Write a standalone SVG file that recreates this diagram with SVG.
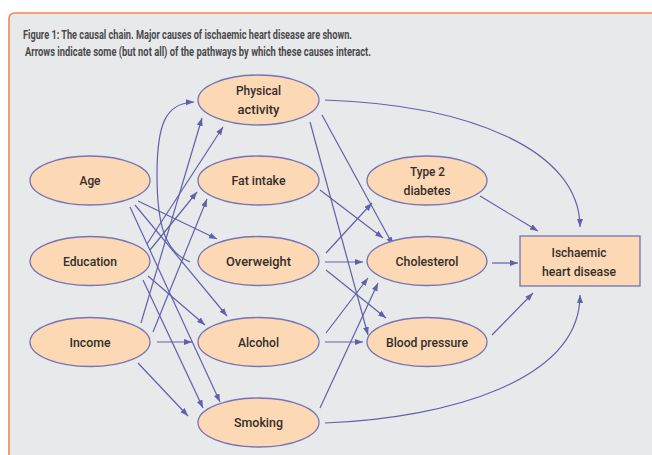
<svg xmlns="http://www.w3.org/2000/svg" width="652" height="455" viewBox="0 0 652 455">
<defs>
<marker id="ah" markerUnits="userSpaceOnUse" markerWidth="9" markerHeight="7" refX="8" refY="3" orient="auto">
<path d="M0,0 L8,3 L0,6 z" fill="#5f62ab"/>
</marker>
<style>
.node ellipse, .node rect { fill:#fdd8b5; stroke:#7474b6; stroke-width:1.3; }
.node text { font-family:Roboto, "Liberation Sans", Arial, sans-serif; font-weight:500; font-size:13.5px; fill:#332e2b; text-anchor:middle; }
.title { font-family:Roboto, "Liberation Sans", Arial, sans-serif; font-size:12.5px; font-weight:bold; fill:#4a4a4d; }
#connectors path, #connectors line { stroke:#5f62ab; stroke-width:1.2; fill:none; marker-end:url(#ah); }
</style>
</defs>
<rect x="0" y="0" width="652" height="455" fill="#ffffff"/>
<path d="M9,460 V19 Q9,13 15,13 H660 V460 Z" fill="#e8e9eb" stroke="none"/>
<path d="M9,460 V19 Q9,13 15,13 H660" fill="none" stroke="#f0874d" stroke-width="1.6"/>
<text class="title" x="23" y="39" textLength="329" lengthAdjust="spacingAndGlyphs">Figure 1: The causal chain. Major causes of ischaemic heart disease are shown.</text>
<text class="title" x="25" y="56" textLength="346" lengthAdjust="spacingAndGlyphs">Arrows indicate some (but not all) of the pathways by which these causes interact.</text>

<g id="connectors">
<line x1="138" y1="201" x2="217" y2="239"/>
<line x1="135" y1="205" x2="227" y2="316"/>
<line x1="130" y1="207" x2="220" y2="402"/>
<line x1="147" y1="244" x2="223" y2="127"/>
<line x1="150" y1="250" x2="197" y2="192"/>
<line x1="148" y1="276" x2="205" y2="325"/>
<line x1="143" y1="280" x2="203" y2="408"/>
<line x1="141" y1="323" x2="202" y2="118"/>
<line x1="153" y1="332" x2="207" y2="199"/>
<line x1="157" y1="342" x2="192" y2="342"/>
<line x1="138" y1="363" x2="188" y2="416"/>
<path d="M190,262 C165,252 157,225 157,175 C157,125 165,103 194,102"/>
<line x1="326" y1="253" x2="372" y2="203"/>
<line x1="325" y1="262" x2="363" y2="262"/>
<line x1="326" y1="270" x2="386" y2="318"/>
<line x1="322" y1="115" x2="393" y2="245"/>
<line x1="310" y1="122" x2="368" y2="335"/>
<line x1="320" y1="190" x2="383" y2="238"/>
<line x1="326" y1="333" x2="368" y2="278"/>
<line x1="325" y1="342" x2="363" y2="342"/>
<line x1="320" y1="408" x2="378" y2="283"/>
<path d="M325,100 C470,105 580,150 580,227"/>
<path d="M325,423 C450,418 580,380 580,295"/>
<line x1="480" y1="196" x2="538" y2="231"/>
<line x1="492" y1="263" x2="518" y2="263"/>
<line x1="492" y1="335" x2="533" y2="293"/>
</g>

<g id="age" class="node"><ellipse cx="90" cy="180.5" rx="60" ry="24.5"/><text x="90" y="184.5" textLength="21" lengthAdjust="spacingAndGlyphs">Age</text></g>
<g id="education" class="node"><ellipse cx="90" cy="261" rx="60" ry="24.5"/><text x="90" y="265.5" textLength="54" lengthAdjust="spacingAndGlyphs">Education</text></g>
<g id="income" class="node"><ellipse cx="90" cy="342" rx="60" ry="24.5"/><text x="90" y="346.5" textLength="41" lengthAdjust="spacingAndGlyphs">Income</text></g>
<g id="physical-activity" class="node"><ellipse cx="258.5" cy="100" rx="60.5" ry="25"/><text x="258.5" y="95" textLength="45" lengthAdjust="spacingAndGlyphs">Physical</text><text x="258.5" y="114" textLength="42" lengthAdjust="spacingAndGlyphs">activity</text></g>
<g id="fat-intake" class="node"><ellipse cx="258.5" cy="180.5" rx="60.5" ry="24.5"/><text x="258.5" y="184.5" textLength="54" lengthAdjust="spacingAndGlyphs">Fat intake</text></g>
<g id="overweight" class="node"><ellipse cx="258.5" cy="261" rx="60.5" ry="24.5"/><text x="258.5" y="265.5" textLength="65" lengthAdjust="spacingAndGlyphs">Overweight</text></g>
<g id="alcohol" class="node"><ellipse cx="258.5" cy="342" rx="60.5" ry="24.5"/><text x="258.5" y="346.5" textLength="41" lengthAdjust="spacingAndGlyphs">Alcohol</text></g>
<g id="smoking" class="node"><ellipse cx="258.5" cy="422.5" rx="60.5" ry="24.5"/><text x="258.5" y="427" textLength="49" lengthAdjust="spacingAndGlyphs">Smoking</text></g>
<g id="type2-diabetes" class="node"><ellipse cx="427" cy="180.5" rx="60" ry="24.5"/><text x="427.5" y="176" textLength="35" lengthAdjust="spacingAndGlyphs">Type 2</text><text x="427" y="195" textLength="47" lengthAdjust="spacingAndGlyphs">diabetes</text></g>
<g id="cholesterol" class="node"><ellipse cx="427" cy="261" rx="60" ry="24.5"/><text x="427" y="265.5" textLength="63" lengthAdjust="spacingAndGlyphs">Cholesterol</text></g>
<g id="blood-pressure" class="node"><ellipse cx="427" cy="342" rx="60" ry="24.5"/><text x="427" y="346.5" textLength="82" lengthAdjust="spacingAndGlyphs">Blood pressure</text></g>
<g id="ischaemic-heart-disease" class="node"><rect x="520" y="236" width="120" height="50"/><text x="579" y="256.5" textLength="55" lengthAdjust="spacingAndGlyphs">Ischaemic</text><text x="579" y="276" textLength="74" lengthAdjust="spacingAndGlyphs">heart disease</text></g>
</svg>
